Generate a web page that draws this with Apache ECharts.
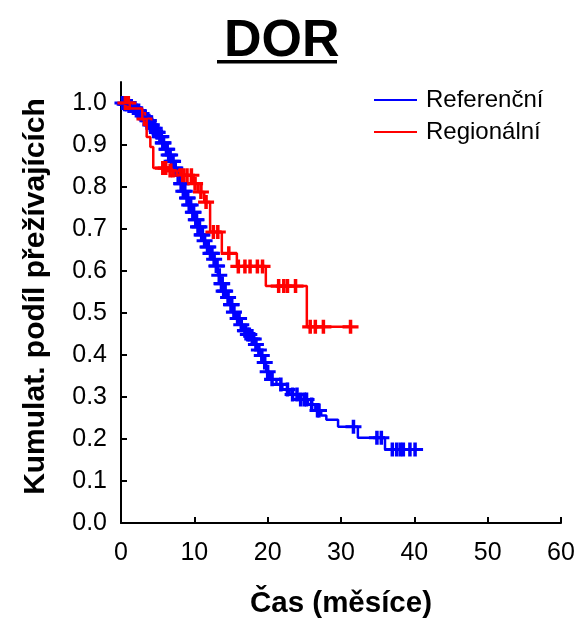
<!DOCTYPE html>
<html><head><meta charset="utf-8">
<script src="https://cdn.jsdelivr.net/npm/echarts@6/dist/echarts.min.js"></script>
<style>html,body{margin:0;padding:0;background:#fff}#c{width:579px;height:620px}</style>
</head><body><div id="c"></div>
<script>
const titleText = 'DOR';
const xAxisTitle = 'Čas (měsíce)';
const yAxisTitle = 'Kumulat. podíl přežívajících';
const seriesNames = ['Referenční', 'Regionální'];

// Referenční: event times and survival after each event
const refEventTimes = [0.4, 0.9, 1.5, 2.0, 2.5, 3.0, 3.4, 3.9, 4.3, 4.8, 5.2, 5.6, 6.0, 6.4, 6.8, 7.2, 7.6, 8.0, 8.4, 8.8, 9.2, 9.6, 10.0, 10.4, 10.8, 11.2, 11.6, 12.0, 12.5, 12.9, 13.2, 13.5, 13.9, 14.3, 14.8, 15.2, 15.7, 16.2, 16.7, 17.2, 17.7, 18.2, 18.6, 19.0, 19.4, 19.8, 20.3, 21.2, 22.0, 23.0, 24.2, 25.5, 26.5, 27.3, 28.0, 29.6, 32.3, 36.0];
const refSurvival   = [0.997, 0.993, 0.988, 0.982, 0.975, 0.967, 0.958, 0.948, 0.940, 0.930, 0.920, 0.905, 0.890, 0.876, 0.861, 0.845, 0.828, 0.808, 0.790, 0.774, 0.757, 0.740, 0.722, 0.705, 0.686, 0.672, 0.657, 0.642, 0.628, 0.612, 0.590, 0.570, 0.552, 0.537, 0.520, 0.502, 0.487, 0.472, 0.458, 0.449, 0.438, 0.425, 0.412, 0.399, 0.382, 0.360, 0.342, 0.330, 0.318, 0.306, 0.294, 0.282, 0.268, 0.256, 0.246, 0.229, 0.203, 0.175];
const refEndTime = 40.8;
const refCensorTimes = [0.2, 0.5, 0.7, 0.8, 1.1, 1.3, 1.4, 1.7, 1.9, 2.1, 2.4, 2.6, 2.8, 3.2, 3.3, 3.6, 3.8, 4.0, 4.2, 4.4, 4.6, 4.9, 5.0, 5.3, 5.5, 5.7, 5.8, 6.2, 6.3, 6.5, 6.7, 6.9, 7.1, 7.3, 7.4, 7.8, 7.9, 8.2, 8.3, 8.5, 8.7, 9.0, 9.1, 9.3, 9.5, 9.8, 9.9, 10.2, 10.3, 10.5, 10.7, 11.0, 11.1, 11.4, 11.8, 11.9, 12.2, 12.4, 12.7, 13.0, 13.1, 13.4, 13.7, 13.8, 14.0, 14.2, 14.6, 15.0, 15.1, 15.4, 15.9, 16.1, 16.4, 16.9, 17.0, 17.3, 17.5, 17.9, 18.1, 18.4, 18.8, 19.2, 19.6, 20.0, 20.6, 21.8, 22.7, 23.4, 24.0, 24.5, 25.0, 25.3, 26.0, 26.8, 27.0, 31.7, 34.9, 35.5, 37.0, 37.6, 38.1, 38.5, 39.4, 40.1];

// Regionální
const regEventTimes = [1.2, 2.9, 3.5, 4.0, 4.4, 6.3, 7.6, 9.85, 10.5, 11.35, 12.15, 13.75, 15.8, 19.75, 25.34];
const regSurvival   = [0.987, 0.962, 0.919, 0.895, 0.845, 0.839, 0.828, 0.808, 0.788, 0.764, 0.693, 0.642, 0.611, 0.564, 0.467];
const regEndTime = 31.3;
const regCensorTimes = [0.6, 1.0, 3.2, 5.7, 6.1, 6.7, 7.1, 8.1, 8.5, 9.0, 9.6, 10.1, 10.9, 11.6, 12.6, 13.2, 14.7, 16.0, 16.9, 17.6, 18.6, 19.3, 21.5, 22.2, 22.7, 23.8, 25.8, 26.5, 27.6, 31.3];

const xTicks = [0, 10, 20, 30, 40, 50, 60];
const yTicks = [0, 0.1, 0.2, 0.3, 0.4, 0.5, 0.6, 0.7, 0.8, 0.9, 1.0];

function stepData(times, surv, end) {
  const d = [[0, 1]];
  for (let i = 0; i < times.length; i++) d.push([times[i], surv[i]]);
  d.push([end, surv[surv.length - 1]]);
  return d;
}
function survAt(times, surv, t) {
  let s = 1;
  for (let i = 0; i < times.length; i++) if (times[i] <= t) s = surv[i];
  return s;
}
function censorData(ct, times, surv) {
  return ct.map(t => [t, survAt(times, surv, t)]);
}

const FONT = "'Liberation Sans', Arial, sans-serif";
const PLUS = 'path://M39,0H61V39H100V61H61V100H39V61H0V39H39Z';
const BLUE = '#0000FF', RED = '#FF0000';

const chart = echarts.init(document.getElementById('c'), null, {renderer: 'canvas'});
chart.setOption({
  animation: false,
  backgroundColor: '#fff',
  textStyle: {fontFamily: FONT},
  title: {
    text: titleText, left: 219, top: 11,
    textStyle: {fontFamily: FONT, fontSize: 52, fontWeight: 'bold', color: '#000'}
  },
  graphic: [{type: 'rect', shape: {x: 217, y: 60, width: 120, height: 3.5}, style: {fill: '#000'}}],
  legend: {
    data: seriesNames, orient: 'vertical', left: 369, top: 83,
    icon: 'rect', itemWidth: 43, itemHeight: 2, itemGap: 8,
    textStyle: {fontFamily: FONT, fontSize: 24, color: '#000', lineHeight: 24, padding: [0, 0, 0, 4]}
  },
  grid: {left: 121, right: 18, top: 82, bottom: 97, containLabel: false, outerBoundsMode: 'none'},
  xAxis: {
    type: 'value', min: 0, max: 60, interval: 10,
    name: xAxisTitle, nameLocation: 'middle', nameGap: 66,
    nameTextStyle: {fontFamily: FONT, fontSize: 29.5, fontWeight: 'bold', color: '#000'},
    axisLine: {lineStyle: {color: '#000', width: 2}},
    axisTick: {inside: true, length: 6, lineStyle: {color: '#000', width: 2}, customValues: xTicks},
    axisLabel: {fontFamily: FONT, fontSize: 25, color: '#000', margin: 18, customValues: xTicks},
    splitLine: {show: false}
  },
  yAxis: {
    type: 'value', min: 0, max: 1.05, interval: 0.1,
    name: yAxisTitle, nameLocation: 'middle', nameGap: 70,
    nameTextStyle: {fontFamily: FONT, fontSize: 30, fontWeight: 'bold', color: '#000', padding: [0, 0, 0, 12]},
    axisLine: {lineStyle: {color: '#000', width: 2}},
    axisTick: {inside: true, length: 6, lineStyle: {color: '#000', width: 2}, customValues: yTicks},
    axisLabel: {fontFamily: FONT, fontSize: 25, color: '#000', margin: 14, customValues: yTicks,
      formatter: v => v.toFixed(1)},
    splitLine: {show: false}
  },
  series: [
    {name: seriesNames[0], type: 'line', step: 'end', symbol: 'none', silent: true,
      lineStyle: {color: BLUE, width: 2.5}, itemStyle: {color: BLUE},
      data: stepData(refEventTimes, refSurvival, refEndTime)},
    {name: seriesNames[0] + ' cenzura', type: 'scatter', symbol: PLUS, symbolSize: [16, 14], silent: true,
      itemStyle: {color: BLUE, opacity: 1},
      data: censorData(refCensorTimes, refEventTimes, refSurvival)},
    {name: seriesNames[1], type: 'line', step: 'end', symbol: 'none', silent: true,
      lineStyle: {color: RED, width: 2.5}, itemStyle: {color: RED},
      data: stepData(regEventTimes, regSurvival, regEndTime)},
    {name: seriesNames[1] + ' cenzura', type: 'scatter', symbol: PLUS, symbolSize: [16, 14], silent: true,
      itemStyle: {color: RED, opacity: 1},
      data: censorData(regCensorTimes, regEventTimes, regSurvival)}
  ]
});
</script>
</body></html>
